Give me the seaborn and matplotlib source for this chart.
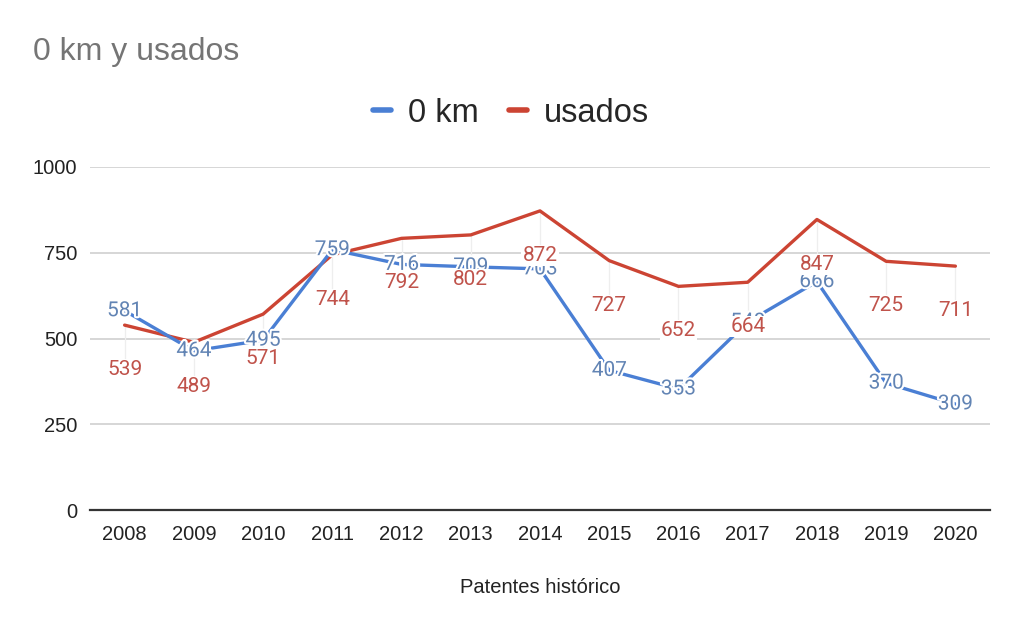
import matplotlib
matplotlib.use("Agg")
import matplotlib.pyplot as plt
import matplotlib.patheffects as pe
from matplotlib.lines import Line2D
import seaborn as sns
import pandas as pd

years = ["2008", "2009", "2010", "2011", "2012", "2013", "2014",
         "2015", "2016", "2017", "2018", "2019", "2020"]
km0 = [581, 464, 495, 759, 716, 709, 703, 407, 353, 548, 666, 370, 309]
usados = [539, 489, 571, 744, 792, 802, 872, 727, 652, 664, 847, 725, 711]
series_names = ["0 km", "usados"]
yticks = [0, 250, 500, 750, 1000]

line_colors = {"0 km": "#4a7fd4", "usados": "#cc4433"}
label_colors = {"0 km": "#6284b4", "usados": "#c0534b"}

sns.set_theme(style="white")
plt.rcParams["font.family"] = ["Liberation Sans", "DejaVu Sans"]

df = pd.DataFrame({
    "year": years * 2,
    "x": list(range(len(years))) * 2,
    "value": km0 + usados,
    "serie": [series_names[0]] * len(years) + [series_names[1]] * len(years),
})

fig = plt.figure(figsize=(10.23, 6.32), dpi=100)
ax = fig.add_axes([90 / 1023, 1 - 510 / 632, 900 / 1023, 343 / 632])

sns.lineplot(data=df, x="x", y="value", hue="serie", palette=line_colors,
             linewidth=2.4, ax=ax, legend=False, clip_on=False,
             hue_order=["usados", "0 km"])

ax.set_xlim(-0.5, len(years) - 0.5)
ax.set_ylim(0, 1000)
ax.set_yticks(yticks)
ax.set_yticklabels([str(t) for t in yticks])
ax.set_xticks(range(len(years)))
ax.set_xticklabels(years)
ax.tick_params(axis="both", labelsize=14.5, colors="#222222", length=0)
ax.tick_params(axis="y", pad=9)
ax.tick_params(axis="x", pad=11)
ax.grid(axis="y", color="#cccccc", linewidth=1.1)
ax.set_axisbelow(True)
for s in ["top", "right", "left"]:
    ax.spines[s].set_visible(False)
ax.spines["bottom"].set_color("#333333")
ax.spines["bottom"].set_linewidth(1.6)
ax.set_xlabel("Patentes histórico", fontsize=14.5, color="#222222", labelpad=24)
ax.set_ylabel("")

halo = [pe.withStroke(linewidth=3, foreground="white")]
lab_font = ["Roboto", "DejaVu Sans"]
# faint leader lines from red points down to their labels
for i, v in enumerate(usados):
    ax.plot([i, i], [v, v - 110], color="#eeeeee", linewidth=0.9, zorder=1)
for i, v in enumerate(km0):
    ax.text(i, v, str(v), ha="center", va="center", fontsize=15,
            color=label_colors["0 km"], family=lab_font, path_effects=halo, zorder=5)
for i, v in enumerate(usados):
    ax.text(i, v - 130, str(v), ha="center", va="center", fontsize=15,
            color=label_colors["usados"], family=lab_font, zorder=6,
            bbox=dict(boxstyle="square,pad=0.05", facecolor="white", edgecolor="none"))

fig.text(33 / 1023, 1 - 52 / 632, "0 km y usados", fontsize=23, color="#757575",
         ha="left", va="center", family=["Liberation Sans", "DejaVu Sans"])

handles = [Line2D([0], [0], color=line_colors[n], linewidth=4) for n in series_names]
fig.legend(handles, series_names, loc="center", bbox_to_anchor=(511 / 1023, 1 - 113 / 632),
           ncol=2, frameon=False, handlelength=0.55, handletextpad=0.5,
           columnspacing=0.95, prop={"family": ["Liberation Sans", "DejaVu Sans"], "size": 23.5})

fig.savefig("out.png", dpi=100, facecolor="white")
